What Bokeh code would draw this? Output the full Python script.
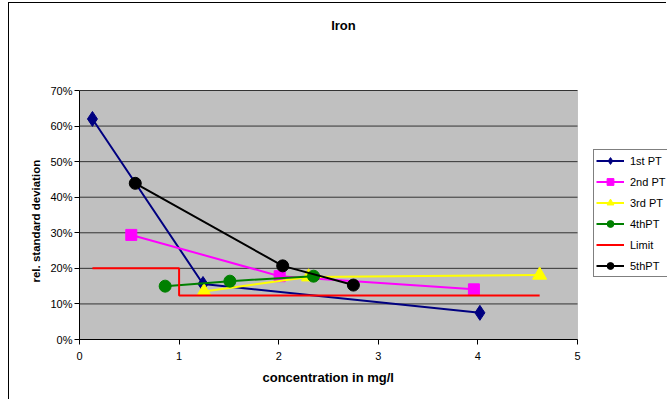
from bokeh.plotting import figure
from bokeh.models import FixedTicker, NumeralTickFormatter, Legend, LegendItem, Label, BoxAnnotation, Title
from bokeh.embed import file_html
from bokeh.resources import INLINE

# data (x: concentration in mg/l, y: relative standard deviation as fraction)
pt1_x = [0.13, 1.24, 4.02]
pt1_y = [0.62, 0.156, 0.075]
pt2_x = [0.52, 2.01, 3.96]
pt2_y = [0.294, 0.178, 0.141]
pt3_x = [1.25, 2.30, 4.62]
pt3_y = [0.135, 0.176, 0.181]
pt4_x = [0.86, 1.51, 2.35]
pt4_y = [0.150, 0.164, 0.178]
limit_x = [0.13, 1.0, 1.0, 4.62]
limit_y = [0.20, 0.20, 0.124, 0.124]
pt5_x = [0.56, 2.04, 2.75]
pt5_y = [0.439, 0.207, 0.153]

x_ticks = [0, 1, 2, 3, 4, 5]
y_ticks = [0, 0.1, 0.2, 0.3, 0.4, 0.5, 0.6, 0.7]
title_text = "Iron"
x_label = "concentration in mg/l"
y_label = "rel. standard deviation"

FONT = "Liberation Sans"

# axis extents of the grey plot area
X_MAX = 5
Y_MAX = 0.7
# the frame is extended to the right/top so legend and title live inside it
PX_PER_X = 498 / X_MAX
PX_PER_Y = 249 / Y_MAX
x_end = 588 / PX_PER_X
y_end = 336 / PX_PER_Y

p = figure(width=658, height=397, x_range=(0, x_end), y_range=(0, y_end),
           output_backend="svg", toolbar_location=None,
           min_border_left=70, min_border_right=0, min_border_top=0, min_border_bottom=61)
p.styles = {"border-left": "1px solid black", "border-top": "1px solid black",
            "margin-left": "8px", "margin-top": "2px"}

p.background_fill_color = "white"
p.border_fill_color = "white"
p.outline_line_color = None
p.xgrid.visible = False
p.ygrid.visible = False

area = BoxAnnotation(left=0, right=X_MAX, bottom=0, top=Y_MAX, fill_color="#C0C0C0",
                     fill_alpha=1, line_color="#808080", line_width=1, level="underlay")
p.add_layout(area)
p.segment(x0=[0] * len(y_ticks), x1=[X_MAX] * len(y_ticks), y0=y_ticks, y1=y_ticks,
          line_color="#333333", line_width=1)

p.xaxis.ticker = FixedTicker(ticks=x_ticks)
p.yaxis.ticker = FixedTicker(ticks=y_ticks)
p.xaxis.bounds = (0, X_MAX)
p.yaxis.bounds = (0, Y_MAX)
p.yaxis.formatter = NumeralTickFormatter(format="0%")
for ax in (p.xaxis[0], p.yaxis[0]):
    ax.axis_line_color = "black"
    ax.axis_line_width = 1
    ax.major_tick_line_color = "black"
    ax.major_tick_out = 5
    ax.major_tick_in = 0
    ax.minor_tick_line_color = None
    ax.major_label_text_font = FONT
    ax.major_label_text_font_size = "11px"
    ax.major_label_text_color = "black"
p.xaxis.major_label_standoff = 7
p.yaxis.major_label_standoff = 2

# axis titles placed as titles in the side panels so they centre on the grey area
xt = Title(text=x_label, align="left", offset=183, standoff=10, text_font=FONT,
           text_font_size="13px", text_font_style="bold", text_color="black")
p.add_layout(xt, "below")
yt = Title(text=y_label, align="left", offset=57, standoff=12, text_font=FONT,
           text_font_size="11.5px", text_font_style="bold", text_color="black")
p.add_layout(yt, "left")

title = Label(x=2.65, y=0.883, text=title_text, text_font=FONT, text_font_size="13px",
              text_font_style="bold", text_color="black", text_align="center",
              text_baseline="middle")
p.add_layout(title)

items = []
r1l = p.line(pt1_x, pt1_y, line_color="#000080", line_width=2)
r1m = p.scatter(pt1_x, pt1_y, marker="diamond", size=15, fill_color="#000080", line_color="#000080")
items.append(LegendItem(label="1st PT", renderers=[r1l, r1m]))
r2l = p.line(pt2_x, pt2_y, line_color="#FF00FF", line_width=2)
r2m = p.scatter(pt2_x, pt2_y, marker="square", size=11, fill_color="#FF00FF", line_color="#FF00FF")
items.append(LegendItem(label="2nd PT", renderers=[r2l, r2m]))
r3l = p.line(pt3_x, pt3_y, line_color="#FFFF00", line_width=2)
r3m = p.scatter(pt3_x, pt3_y, marker="triangle", size=14, fill_color="#FFFF00", line_color="#FFFF00")
items.append(LegendItem(label="3rd PT", renderers=[r3l, r3m]))
r4l = p.line(pt4_x, pt4_y, line_color="#008000", line_width=2)
r4m = p.scatter(pt4_x, pt4_y, marker="circle", size=12, fill_color="#008000", line_color="#008000")
items.append(LegendItem(label="4thPT", renderers=[r4l, r4m]))
rll = p.line(limit_x, limit_y, line_color="#FF0000", line_width=2)
items.append(LegendItem(label="Limit", renderers=[rll]))
r5l = p.line(pt5_x, pt5_y, line_color="black", line_width=2)
r5m = p.scatter(pt5_x, pt5_y, marker="circle", size=12, fill_color="black", line_color="black")
items.append(LegendItem(label="5thPT", renderers=[r5l, r5m]))

legend = Legend(items=items, location=(514, 62), orientation="vertical",
                glyph_width=28, glyph_height=17, label_height=17, spacing=4,
                padding=2, margin=0, label_standoff=6,
                label_text_font=FONT, label_text_font_size="11px", label_text_color="black",
                border_line_color="black", border_line_width=1,
                background_fill_color="white", background_fill_alpha=1)
p.add_layout(legend, "center")

open("out.html", "w").write(file_html(p, INLINE))
